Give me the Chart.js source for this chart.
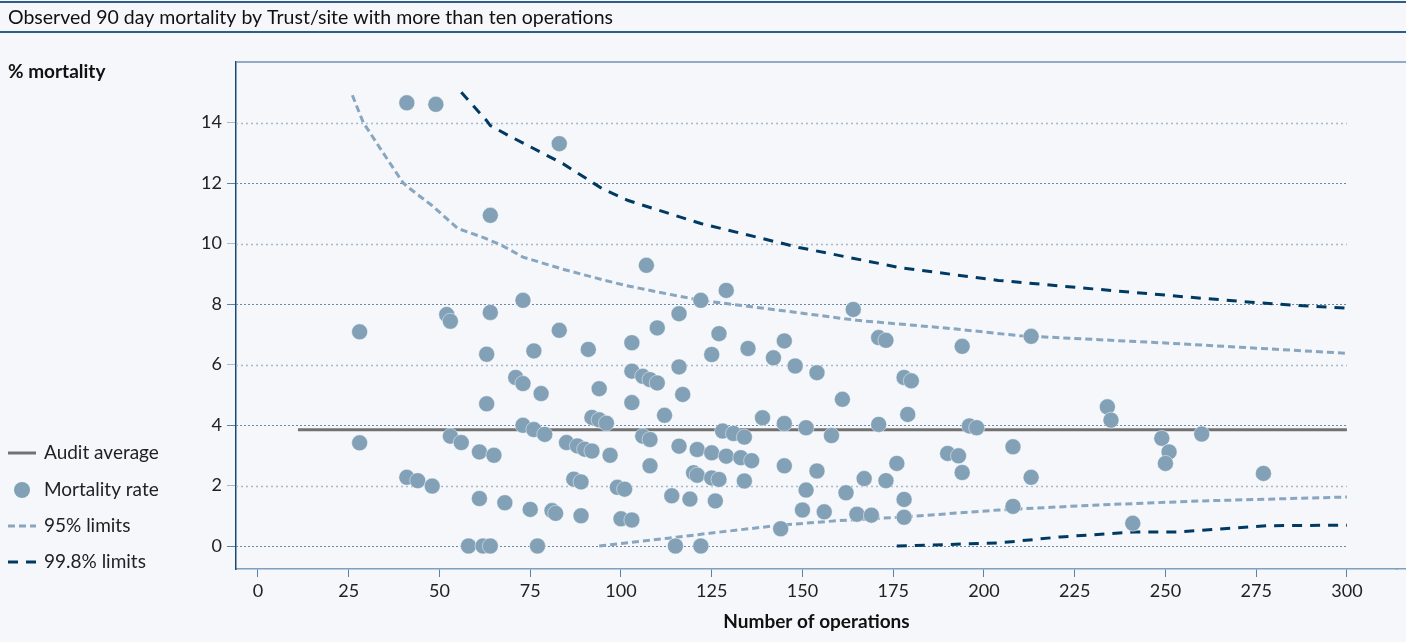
<!DOCTYPE html>
<html>
<head>
<meta charset="utf-8">
<script src="https://cdn.jsdelivr.net/npm/chart.js"></script>
<style>
  html, body { margin: 0; padding: 0; background: #f5f7fa; overflow: hidden; }
  #wrap { width: 1406px; height: 642px; position: relative; }
</style>
</head>
<body>
<div id="wrap"><canvas id="funnel"></canvas></div>
<script>
// operations per Trust/site and observed 90 day mortality (%)
const operations = [41, 49, 83, 64, 73, 52, 53, 64, 28, 83, 63, 76, 91, 103, 71, 73, 78, 94, 103, 63,
  103, 92, 94, 96, 73, 76, 79, 28, 53, 56, 61, 65, 85, 88, 90, 92, 97, 41, 44, 48,
  87, 89, 99, 101, 61, 68, 75, 81, 82, 89, 100, 103, 58, 62, 64, 77, 122, 164, 116, 110,
  127, 125, 135, 145, 142, 148, 154, 171, 173, 194, 106, 108, 110, 116, 117, 112, 161, 178, 180, 179,
  139, 145, 151, 158, 171, 196, 198, 106, 108, 128, 131, 134, 116, 121, 125, 129, 133, 136, 190, 193,
  208, 108, 120, 121, 125, 127, 134, 145, 154, 176, 194, 167, 173, 114, 119, 126, 151, 162, 178, 150,
  156, 165, 169, 178, 208, 144, 115, 122, 213, 234, 235, 249, 251, 250, 260, 213, 277, 241, 107, 129];
const mortality = [14.65, 14.6, 13.3, 10.93, 8.12, 7.65, 7.43, 7.72, 7.08, 7.13, 6.34, 6.45, 6.5, 6.72, 5.57, 5.37, 5.04, 5.2, 5.78, 4.7,
  4.74, 4.25, 4.17, 4.06, 3.99, 3.85, 3.69, 3.41, 3.63, 3.42, 3.11, 3.0, 3.42, 3.31, 3.2, 3.14, 3.0, 2.27, 2.16, 1.98,
  2.21, 2.12, 1.94, 1.88, 1.57, 1.43, 1.21, 1.17, 1.08, 1.0, 0.9, 0.86, 0, 0, 0, 0, 8.12, 7.82, 7.68, 7.21,
  7.02, 6.33, 6.53, 6.78, 6.22, 5.95, 5.73, 6.89, 6.8, 6.6, 5.61, 5.5, 5.39, 5.92, 5.01, 4.32, 4.85, 5.57, 5.46, 4.35,
  4.24, 4.05, 3.91, 3.65, 4.02, 3.97, 3.91, 3.63, 3.52, 3.8, 3.72, 3.6, 3.3, 3.19, 3.08, 2.97, 2.92, 2.82, 3.06, 2.98,
  3.28, 2.65, 2.42, 2.34, 2.25, 2.2, 2.15, 2.65, 2.48, 2.73, 2.43, 2.23, 2.16, 1.66, 1.55, 1.49, 1.85, 1.76, 1.54, 1.19,
  1.13, 1.05, 1.02, 0.95, 1.31, 0.57, 0, 0, 6.93, 4.6, 4.16, 3.56, 3.11, 2.73, 3.7, 2.27, 2.4, 0.75, 9.28, 8.45];

const auditX = [11, 300];
const auditY = [3.84, 3.84];

const upper95X = [26, 29, 35, 40, 42, 48, 55, 62, 67, 73, 84, 95, 101, 110, 122, 140, 165, 190, 210, 225, 250, 275, 300];
const upper95Y = [14.9, 14.0, 12.9, 12.0, 11.8, 11.25, 10.5, 10.2, 9.95, 9.55, 9.15, 8.8, 8.62, 8.4, 8.12, 7.85, 7.46, 7.2, 6.95, 6.86, 6.71, 6.54, 6.37];
const lower95X = [94, 113, 125, 144, 160, 178, 204, 230, 260, 300];
const lower95Y = [0, 0.26, 0.43, 0.69, 0.84, 0.96, 1.19, 1.35, 1.49, 1.62];

const upper998X = [56, 63, 64, 69, 84, 95, 102, 122, 149, 177, 204, 230, 260, 280, 300];
const upper998Y = [15.0, 14.06, 13.9, 13.57, 12.64, 11.8, 11.42, 10.66, 9.87, 9.2, 8.78, 8.5, 8.19, 8.0, 7.86];
const lower998X = [176, 204, 221, 241, 253, 278, 300];
const lower998Y = [0, 0.1, 0.3, 0.46, 0.46, 0.67, 0.69];

const xTicks = [0, 25, 50, 75, 100, 125, 150, 175, 200, 225, 250, 275, 300];
const yTicks = [0, 2, 4, 6, 8, 10, 12, 14];

const FONT = 'Lato, "Noto Sans", sans-serif';
const C_POINT = '#82a1b7';
const C_95 = '#88a6bf';
const C_998 = '#003a63';
const C_AVG = '#727272';
const C_XAXIS = '#7f9fbc';

const pairs = (xs, ys) => xs.map((x, i) => ({ x: x, y: ys[i] }));

const limitLine = (label, xs, ys, color, dash) => ({
  label: label,
  data: pairs(xs, ys),
  showLine: true,
  borderColor: color,
  borderWidth: 3,
  borderDash: dash,
  pointRadius: 0,
  pointHoverRadius: 0,
  fill: false,
  order: 2
});

// 0,4,8,12 get the darker gridline, 2,6,10,14 the lighter one
const isDark = v => v % 4 === 0;

const frame = {
  id: 'frame',
  beforeDraw(chart) {
    const ctx = chart.ctx;
    ctx.save();
    ctx.fillStyle = '#f5f7fa';
    ctx.fillRect(0, 0, chart.width, chart.height);
    ctx.restore();
  },
  beforeDatasetsDraw(chart) {
    const ctx = chart.ctx;
    const area = chart.chartArea;
    const xs = chart.scales.x, ys = chart.scales.y;
    const right = xs.getPixelForValue(300);
    ctx.save();
    // horizontal gridlines, stopping at 300 operations
    yTicks.forEach(v => {
      const y = Math.round(ys.getPixelForValue(v)) + 0.5;
      const dark = isDark(v);
      ctx.strokeStyle = dark ? '#6a8aa8' : '#a7b9ca';
      ctx.lineWidth = dark ? 1 : 1.6;
      ctx.setLineDash(dark ? [2, 2] : [2, 3]);
      ctx.beginPath();
      ctx.moveTo(area.left, y);
      ctx.lineTo(right, y);
      ctx.stroke();
    });
    ctx.setLineDash([]);
    // top frame line and x axis line run on to the page edge
    ctx.strokeStyle = '#6f92b2';
    ctx.lineWidth = 1.5;
    ctx.beginPath();
    ctx.moveTo(area.left, area.top);
    ctx.lineTo(chart.width, area.top);
    ctx.stroke();
    const axisY = Math.round(xs.top - 0.75) + 0.75;
    ctx.strokeStyle = C_XAXIS;
    ctx.beginPath();
    ctx.moveTo(area.right - 2, axisY);
    ctx.lineTo(chart.width, axisY);
    ctx.stroke();
    ctx.restore();
  },
  afterDraw(chart) {
    const ctx = chart.ctx;
    ctx.save();
    // title band
    ctx.strokeStyle = '#2f5d86';
    ctx.lineWidth = 2;
    ctx.beginPath();
    ctx.moveTo(0, 2); ctx.lineTo(chart.width, 2);
    ctx.moveTo(0, 32); ctx.lineTo(chart.width, 32);
    ctx.stroke();
    ctx.fillStyle = '#111';
    ctx.textBaseline = 'middle';
    ctx.font = '19.5px ' + FONT;
    ctx.fillText('Observed 90 day mortality by Trust/site with more than ten operations', 8, 18);
    ctx.font = 'bold 19px ' + FONT;
    ctx.fillText('% mortality', 8, 72);

    // legend
    const items = [
      { text: 'Audit average', y: 453, kind: 'line', color: C_AVG, dash: [] },
      { text: 'Mortality rate', y: 490, kind: 'dot', color: C_POINT },
      { text: '95% limits', y: 526, kind: 'line', color: C_95, dash: [7, 4] },
      { text: '99.8% limits', y: 562, kind: 'line', color: C_998, dash: [10, 8] }
    ];
    ctx.font = '19px ' + FONT;
    items.forEach(it => {
      if (it.kind === 'line') {
        ctx.strokeStyle = it.color;
        ctx.lineWidth = 3;
        ctx.setLineDash(it.dash);
        ctx.beginPath();
        ctx.moveTo(8, it.y); ctx.lineTo(36, it.y);
        ctx.stroke();
        ctx.setLineDash([]);
      } else {
        ctx.fillStyle = it.color;
        ctx.beginPath();
        ctx.arc(22, it.y, 8, 0, Math.PI * 2);
        ctx.fill();
      }
      ctx.fillStyle = '#222';
      ctx.fillText(it.text, 44, it.y);
    });
    ctx.restore();
  }
};

new Chart(document.getElementById('funnel'), {
  type: 'scatter',
  data: {
    datasets: [
      {
        label: 'Mortality rate',
        data: pairs(operations, mortality),
        backgroundColor: C_POINT,
        borderColor: 'rgba(255,255,255,0.45)',
        borderWidth: 1,
        pointRadius: 8,
        order: 0
      },
      {
        label: 'Audit average',
        data: pairs(auditX, auditY),
        showLine: true,
        borderColor: C_AVG,
        borderWidth: 3,
        pointRadius: 0,
        order: 1
      },
      limitLine('95% limits', upper95X, upper95Y, C_95, [7, 4]),
      limitLine('95% limits (lower)', lower95X, lower95Y, C_95, [7, 4]),
      limitLine('99.8% limits', upper998X, upper998Y, C_998, [10, 8]),
      limitLine('99.8% limits (lower)', lower998X, lower998Y, C_998, [10, 8])
    ]
  },
  options: {
    responsive: true,
    maintainAspectRatio: false,
    animation: false,
    layout: { padding: { top: 62, left: 0, right: 0, bottom: 0 } },
    plugins: { legend: { display: false }, title: { display: false }, tooltip: { enabled: false } },
    scales: {
      x: {
        type: 'linear',
        min: -6.06,
        max: 313.8,
        afterBuildTicks: s => { s.ticks = xTicks.map(v => ({ value: v })); },
        afterFit: s => { s.height = 73; },
        grid: { drawOnChartArea: false, drawTicks: true, tickLength: 8, color: '#5a82a6' },
        border: { color: C_XAXIS, width: 1.5 },
        ticks: { color: '#222', font: { family: FONT, size: 18 }, padding: 3, maxRotation: 0, autoSkip: false },
        title: { display: true, text: 'Number of operations', color: '#111', font: { family: FONT, size: 19, weight: 'bold' }, padding: { top: 4, bottom: 9 } }
      },
      y: {
        type: 'linear',
        min: -0.76,
        max: 16,
        afterBuildTicks: s => { s.ticks = yTicks.map(v => ({ value: v })); },
        afterFit: s => { s.width = 236; },
        grid: {
          drawOnChartArea: false, drawTicks: true, tickLength: 9,
          color: c => (c.tick && isDark(c.tick.value)) ? '#5a82a6' : '#a3bccf'
        },
        border: { color: '#1d4a72', width: 1.5 },
        ticks: { color: '#222', font: { family: FONT, size: 18 }, padding: 5 }
      }
    }
  },
  plugins: [frame]
});
</script>
</body>
</html>
